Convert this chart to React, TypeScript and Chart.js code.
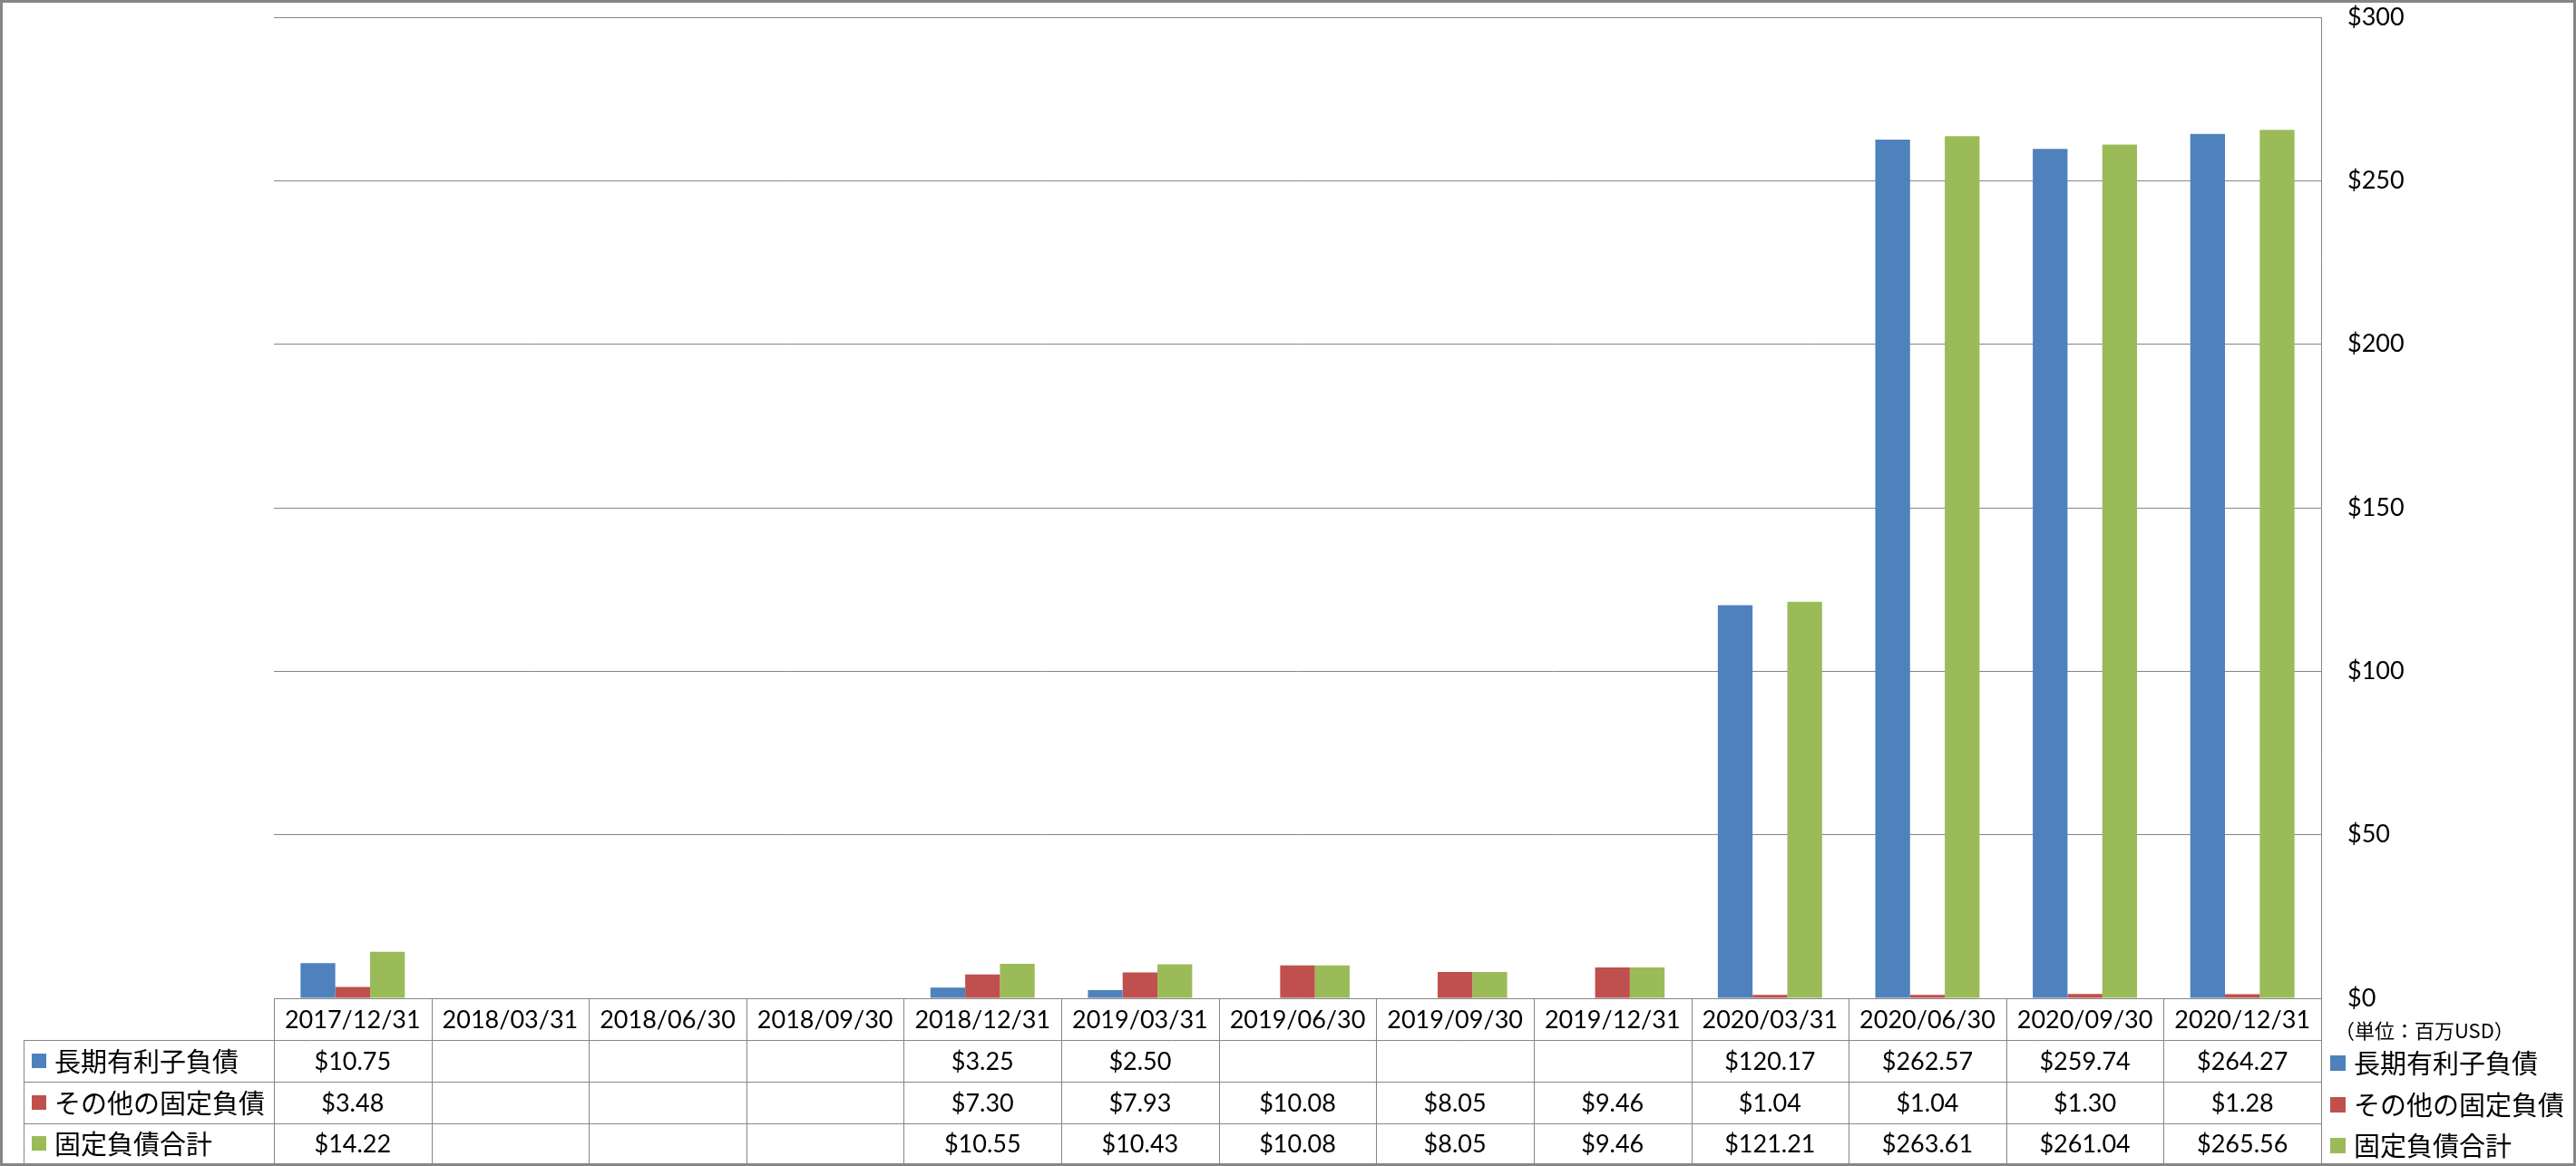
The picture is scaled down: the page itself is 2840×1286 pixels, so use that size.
import React, { useEffect, useRef } from "react";
import { Chart, registerables } from "chart.js";

Chart.register(...registerables);

const categories = [
  "2017/12/31", "2018/03/31", "2018/06/30", "2018/09/30", "2018/12/31",
  "2019/03/31", "2019/06/30", "2019/09/30", "2019/12/31", "2020/03/31",
  "2020/06/30", "2020/09/30", "2020/12/31",
];
const seriesNames = ["長期有利子負債", "その他の固定負債", "固定負債合計"];
const longTermDebt = [10.75, null, null, null, 3.25, 2.5, null, null, null, 120.17, 262.57, 259.74, 264.27];
const otherFixed = [3.48, null, null, null, 7.3, 7.93, 10.08, 8.05, 9.46, 1.04, 1.04, 1.3, 1.28];
const totalFixed = [14.22, null, null, null, 10.55, 10.43, 10.08, 8.05, 9.46, 121.21, 263.61, 261.04, 265.56];
const yTicks = [0, 50, 100, 150, 200, 250, 300];
const unitLabel = "（単位：百万USD）";
const colors = ["#4F81BD", "#C0504D", "#9BBB59"];

const LINE = "#868686";
const LATIN = "Lato, 'Open Sans', sans-serif";
const CJK = "'Noto Sans CJK JP', 'Noto Sans', sans-serif";

const tablePlugin = {
  id: "dataTable",
  afterDraw(chart: any) {
    const ctx = chart.ctx as CanvasRenderingContext2D;
    const xs = chart.scales.x;
    const area = chart.chartArea;
    const n = categories.length;
    const colW = (area.right - area.left) / n;
    const top = area.bottom;
    const rowH = 46;
    const rowsY = [top, top + rowH, top + 2 * rowH, top + 3 * rowH, top + 4 * rowH - 2];
    const labelLeft = 26;
    const series = [longTermDebt, otherFixed, totalFixed];

    ctx.save();
    ctx.strokeStyle = LINE;
    ctx.lineWidth = 1;
    const hline = (x1: number, x2: number, y: number) => {
      ctx.beginPath();
      ctx.moveTo(x1, Math.round(y) + 0.5);
      ctx.lineTo(x2, Math.round(y) + 0.5);
      ctx.stroke();
    };
    const vline = (x: number, y1: number, y2: number) => {
      ctx.beginPath();
      ctx.moveTo(Math.round(x) + 0.5, y1);
      ctx.lineTo(Math.round(x) + 0.5, y2);
      ctx.stroke();
    };
    hline(area.left, area.right, rowsY[0]);
    for (let r = 1; r < rowsY.length; r++) hline(labelLeft, area.right, rowsY[r]);
    for (let i = 0; i <= n; i++) vline(area.left + i * colW, rowsY[0], rowsY[4]);
    vline(labelLeft, rowsY[1], rowsY[4]);

    // header
    ctx.fillStyle = "#000";
    ctx.textAlign = "center";
    ctx.textBaseline = "middle";
    ctx.font = `27px ${LATIN}`;
    categories.forEach((c, i) => {
      const cx = xs.getPixelForValue(i);
      ctx.fillText(c, cx, (rowsY[0] + rowsY[1]) / 2 + 1);
    });
    // values
    series.forEach((vals, s) => {
      const cy = (rowsY[s + 1] + rowsY[s + 2]) / 2 + 1;
      vals.forEach((v, i) => {
        if (v === null || v === undefined) return;
        const cx = xs.getPixelForValue(i);
        ctx.fillText(`$${v.toFixed(2)}`, cx, cy);
      });
    });
    // row labels
    ctx.textAlign = "left";
    ctx.font = `29px ${CJK}`;
    seriesNames.forEach((name, s) => {
      const cy = (rowsY[s + 1] + rowsY[s + 2]) / 2;
      ctx.fillStyle = colors[s];
      ctx.fillRect(35, cy - 8, 16, 16);
      ctx.fillStyle = "#000";
      ctx.fillText(name, 60, cy + 1);
    });
    // right legend
    ctx.font = `22px ${CJK}`;
    ctx.fillText(unitLabel, 2574, 1137);
    ctx.font = `29px ${CJK}`;
    seriesNames.forEach((name, s) => {
      const cy = (rowsY[s + 1] + rowsY[s + 2]) / 2 + 2;
      ctx.fillStyle = colors[s];
      ctx.fillRect(2569, cy - 8, 17, 17);
      ctx.fillStyle = "#000";
      ctx.fillText(name, 2595, cy + 1);
    });
    // outer border
    ctx.strokeStyle = LINE;
    ctx.lineWidth = 3;
    ctx.strokeRect(1.5, 1.5, chart.width - 3, chart.height - 3);
    ctx.restore();
  },
};

export default function App() {
  const ref = useRef<HTMLCanvasElement | null>(null);
  useEffect(() => {
    if (!ref.current) return;
    const chart = new Chart(ref.current, {
      type: "bar",
      data: {
        labels: categories,
        datasets: [
          { label: seriesNames[0], data: longTermDebt, backgroundColor: colors[0] },
          { label: seriesNames[1], data: otherFixed, backgroundColor: colors[1] },
          { label: seriesNames[2], data: totalFixed, backgroundColor: colors[2] },
        ],
      },
      options: {
        responsive: false,
        animation: false,
        devicePixelRatio: 1,
        layout: { padding: { left: 302, top: 19, bottom: 185, right: 0 } },
        plugins: { legend: { display: false }, tooltip: { enabled: false } },
        datasets: { bar: { categoryPercentage: 0.662, barPercentage: 1 } },
        scales: {
          x: {
            ticks: { display: false },
            grid: { display: false, drawTicks: false, tickLength: 0 },
            border: { display: false },
            afterFit: (s: any) => { s.height = 0; s.paddingLeft = 0; s.paddingRight = 0; },
          },
          y: {
            position: "right",
            min: 0,
            max: 300,
            afterBuildTicks: (s: any) => { s.ticks = yTicks.map((v) => ({ value: v })); },
            ticks: {
              padding: 29,
              color: "#000",
              font: { family: LATIN, size: 27 },
              callback: (v: any) => `$${v}`,
            },
            grid: { color: LINE, lineWidth: 1, drawTicks: false, tickLength: 0 },
            border: { display: true, color: LINE, width: 1 },
            afterFit: (s: any) => { s.width = 281; s.paddingTop = 0; s.paddingBottom = 0; },
          },
        },
      },
      plugins: [tablePlugin],
    });
    return () => chart.destroy();
  }, []);
  return (
    <div style={{ position: "fixed", left: 0, top: 0, width: 2840, height: 1286, background: "#fff", overflow: "hidden" }}>
      <canvas ref={ref} width={2840} height={1286} style={{ display: "block" }} />
    </div>
  );
}
